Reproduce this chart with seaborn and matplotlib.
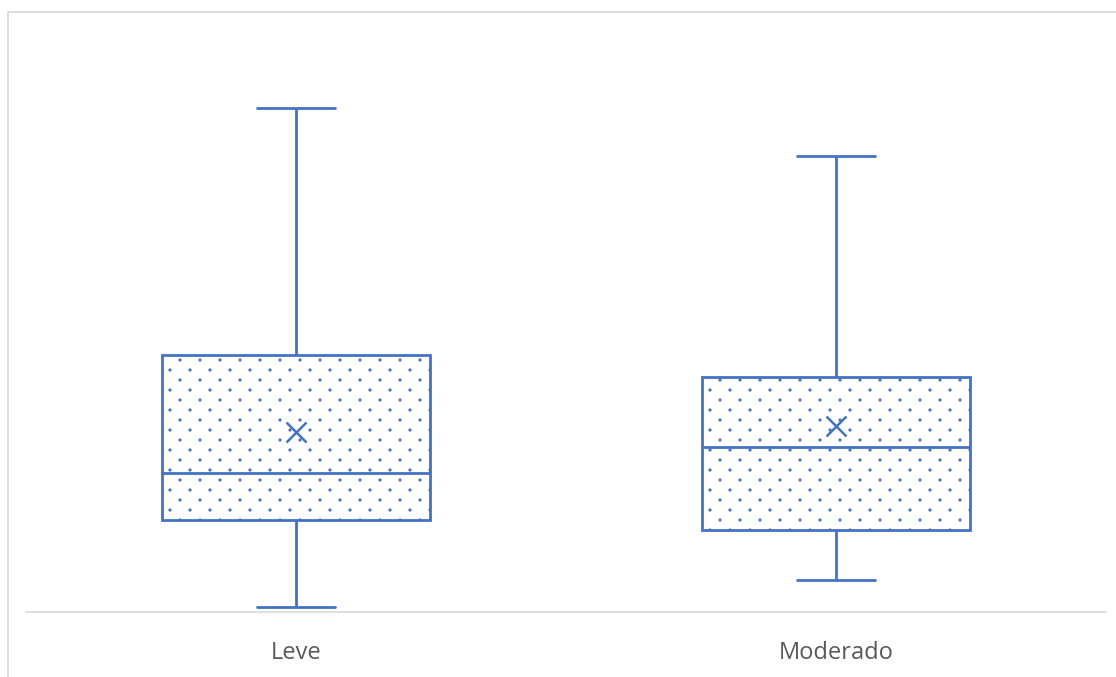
import matplotlib
matplotlib.use("Agg")
import matplotlib.pyplot as plt
import matplotlib.hatch as mhatch
from matplotlib.patches import Rectangle
import numpy as np
import pandas as pd
import seaborn as sns

# Five-number summaries and means per severity group
categories = ["Leve", "Moderado"]
whisker_low = [0.5, 3.2]
q1 = [9.2, 8.2]
median = [13.9, 16.5]
q3 = [25.7, 23.5]
whisker_high = [50.4, 45.6]
means = [18.0, 18.6]

BLUE = "#4472C4"
GRID_GRAY = "#D9D9D9"
TEXT_GRAY = "#595959"


class SparseDots(mhatch.HatchPatternBase):
    """Staggered dot fill: dots in rows, every other row shifted half a step,
    with columns twice as far apart as the rows."""
    n_cols = 5
    n_rows = 10
    radius = 0.009

    def __init__(self, hatch, density):
        self.active = hatch.count(".") > 0
        circle = mhatch.Path.unit_circle()
        self.shape_vertices = circle.vertices * self.radius
        self.shape_codes = circle.codes
        if self.active:
            n = 0
            for row in range(self.n_rows + 1):
                n += self.n_cols + 1 if row % 2 == 0 else self.n_cols
            self.num_vertices = n * len(self.shape_vertices)
        else:
            self.num_vertices = 0

    def set_vertices_and_codes(self, vertices, codes):
        dx = 1.0 / self.n_cols
        dy = 1.0 / self.n_rows
        vparts, cparts = [], []
        for row in range(self.n_rows + 1):
            if row % 2 == 0:
                cols = np.linspace(0, 1, self.n_cols + 1)
            else:
                cols = np.linspace(dx / 2, 1 - dx / 2, self.n_cols)
            for c in cols:
                vparts.append(self.shape_vertices + [c, row * dy])
                cparts.append(self.shape_codes)
        np.concatenate(vparts, out=vertices)
        np.concatenate(cparts, out=codes)


mhatch._hatch_types = [SparseDots]

sns.set_style("white")
plt.rcParams["font.family"] = ["Open Sans", "DejaVu Sans"]
plt.rcParams["hatch.linewidth"] = 1.0

# Long-form table: each group's summary values, so quartiles land on them exactly
rows = []
for i, cat in enumerate(categories):
    for v in (whisker_low[i], q1[i], median[i], q3[i], whisker_high[i]):
        rows.append({"grupo": cat, "valor": v})
df = pd.DataFrame(rows)
mean_df = pd.DataFrame({"grupo": categories, "media": means})

fig = plt.figure(figsize=(11.16, 6.77), dpi=100)
ax = fig.add_axes([26 / 1116, (677 - 612) / 677, 1080 / 1116, 580 / 677])

sns.boxplot(
    data=df, x="grupo", y="valor", order=categories,
    whis=(0, 100), width=0.497, color="white", linecolor=BLUE,
    linewidth=2.0, capwidths=0.145, showfliers=False, ax=ax,
)
for patch in ax.patches:
    patch.set_hatch(".")
    patch.set_edgecolor(BLUE)
    patch.set_facecolor("white")

sns.pointplot(
    data=mean_df, x="grupo", y="media", order=categories,
    linestyle="none", marker="x", markersize=14, markeredgewidth=1.8,
    color=BLUE, errorbar=None, ax=ax,
)

ax.set_xlim(-0.5, 1.5)
ax.set_ylim(0, 58)
ax.set_xlabel("")
ax.set_ylabel("")
ax.set_yticks([])
ax.tick_params(axis="x", length=0, pad=21, labelsize=17, labelcolor=TEXT_GRAY)
for side in ("top", "left", "right"):
    ax.spines[side].set_visible(False)
ax.spines["bottom"].set_color(GRID_GRAY)
ax.spines["bottom"].set_linewidth(1.2)
ax.set_facecolor("white")

# Light frame around the chart area
fig.patches.append(Rectangle(
    (8 / 1116, -0.2), 1.2, 1.2 - 12 / 677, transform=fig.transFigure,
    fill=False, edgecolor=GRID_GRAY, linewidth=1.2, zorder=0,
))

fig.savefig("out.png", dpi=100, facecolor="white")
